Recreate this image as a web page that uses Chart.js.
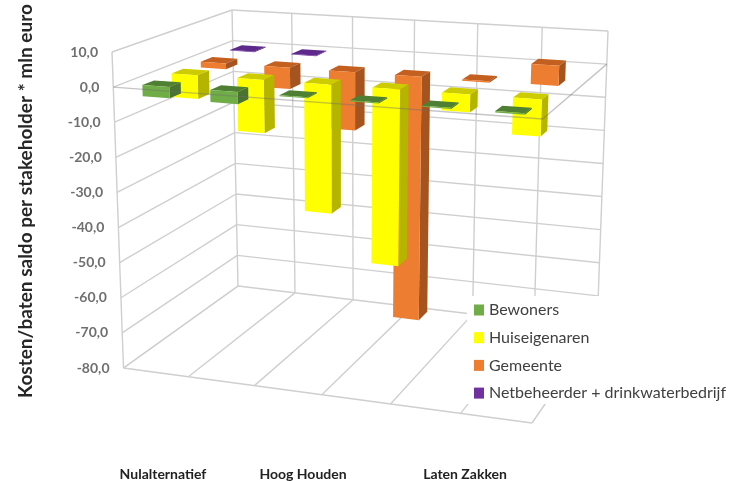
<!DOCTYPE html>
<html>
<head>
<meta charset="utf-8">
<title>Kosten/baten saldo per stakeholder</title>
<script src="https://cdn.jsdelivr.net/npm/chart.js"></script>
<style>
  html, body { margin: 0; background: #fff; }
  canvas { display: block; }
</style>
</head>
<body>
<canvas id="myChart" width="732" height="481"></canvas>
<script>
// mln euro per alternative, two columns for each one
var categories = ['Nulalternatief', '', 'Hoog Houden', '', 'Laten Zakken', ''];
var bewoners = [-3.2, -3.4, -0.3, -0.3, -0.3, -0.4];
var huiseigenaren = [-7, -15.5, -37, -50, -5, -10.2];
var gemeente = [-1.8, -6.4, -17.3, -71.3, -0.4, 5.8];
var netbeheerder = [-0.2, -0.2, 0, 0, 0, 0];

// where the plot box ends up on screen: f/b = front/back, l/r = left/right, t/b = top/bottom
var box = {
    flt: [112, 52], flb: [123.5, 368],
    frt: [544, 81], frb: [532, 423],
    blt: [232, 10], blb: [238, 286],
    brt: [608, 31], brb: [597, 329]
};
var categoryLabelX = [163, null, 303, null, 465, null];
var perspective = 1.06; // columns get wider towards the right

var faceColors = [
    { front: '#70ad47', top: '#4f7f32', side: '#4a7230' },
    { front: '#ffff00', top: '#cccc00', side: '#b5b500' },
    { front: '#ed7d31', top: '#c4601f', side: '#a5541f' },
    { front: '#7030a0', top: '#5d2a8c', side: '#4f2378' }
];

function mix(a, b, k) {
    return [a[0] + (b[0] - a[0]) * k, a[1] + (b[1] - a[1]) * k];
}

// u along the categories, d front to back, t top to bottom of the value axis
function project(u, d, t) {
    var w = u / (u + perspective * (1 - u));
    var front = mix(mix(box.flt, box.flb, t), mix(box.frt, box.frb, t), w);
    var back = mix(mix(box.blt, box.blb, t), mix(box.brt, box.brb, t), w);
    return mix(front, back, d);
}

function line(ctx, a, b) {
    ctx.beginPath();
    ctx.moveTo(a[0], a[1]);
    ctx.lineTo(b[0], b[1]);
    ctx.stroke();
}

function face(ctx, color, pts) {
    ctx.fillStyle = color;
    ctx.beginPath();
    pts.forEach(function (p, i) {
        if (i === 0) ctx.moveTo(p[0], p[1]);
        else ctx.lineTo(p[0], p[1]);
    });
    ctx.closePath();
    ctx.fill();
}

var box3d = {
    id: 'box3d',
    beforeDatasetsDraw: function (chart) {
        var ctx = chart.ctx;
        var area = chart.chartArea;
        var yScale = chart.scales.y;
        var tOf = function (px) { return (px - area.top) / area.height; };
        var uOf = function (px) { return (px - area.left) / area.width; };
        var rows = chart.data.datasets.length;
        var slots = chart.data.labels.length;

        ctx.save();
        // walls and floor
        ctx.strokeStyle = '#cfcfcf';
        ctx.lineWidth = 1.4;
        yScale.ticks.forEach(function (tick) {
            var t = tOf(yScale.getPixelForValue(tick.value));
            line(ctx, project(0, 0, t), project(0, 1, t));
            line(ctx, project(0, 1, t), project(1, 1, t));
        });
        line(ctx, project(0, 0, 0), project(0, 0, 1));
        for (var s = 0; s <= slots; s++) {
            line(ctx, project(s / slots, 1, 0), project(s / slots, 1, 1));
            line(ctx, project(s / slots, 1, 1), project(s / slots, 0, 1));
        }
        line(ctx, project(0, 0, 1), project(1, 0, 1));

        // back row first so the nearer columns cover it
        for (var row = rows - 1; row >= 0; row--) {
            var els = chart.getDatasetMeta(row).data;
            var colors = faceColors[row];
            var d0 = (row + 0.3) / rows;
            var d1 = (row + 0.7) / rows;
            els.forEach(function (el, i) {
                if (!chart.data.datasets[row].data[i]) return;
                var u0 = uOf(el.x - el.width / 2);
                var u1 = uOf(el.x + el.width / 2);
                var t0 = tOf(Math.min(el.y, el.base));
                var t1 = tOf(Math.max(el.y, el.base));
                face(ctx, colors.top, [project(u0, d0, t0), project(u1, d0, t0), project(u1, d1, t0), project(u0, d1, t0)]);
                face(ctx, colors.side, [project(u1, d0, t0), project(u1, d1, t0), project(u1, d1, t1), project(u1, d0, t1)]);
                face(ctx, colors.front, [project(u0, d0, t0), project(u1, d0, t0), project(u1, d0, t1), project(u0, d0, t1)]);
            });
        }

        // the zero plane edge runs in front of the columns
        var t0Line = tOf(yScale.getPixelForValue(0));
        ctx.strokeStyle = 'rgba(110,110,110,0.4)';
        line(ctx, project(0, 0, t0Line), project(1, 0, t0Line));
        line(ctx, project(1, 0, t0Line), project(1, 1, t0Line));

        // legend on its white panel
        ctx.fillStyle = '#fff';
        ctx.fillRect(467, 296, 265, 108);
        ctx.textBaseline = 'middle';
        ctx.textAlign = 'left';
        ctx.font = '16px Lato';
        chart.data.datasets.forEach(function (ds, i) {
            var y = 310 + i * 27.7;
            ctx.fillStyle = ds.backgroundColor;
            ctx.fillRect(474, y - 5.5, 10, 11);
            ctx.fillStyle = '#404040';
            ctx.fillText(ds.label, 489, y);
        });

        // value labels follow the slanted front edge
        ctx.font = 'bold 14px Lato';
        ctx.fillStyle = '#6f6f6f';
        ctx.textAlign = 'right';
        yScale.ticks.forEach(function (tick) {
            var p = project(0, 0, tOf(yScale.getPixelForValue(tick.value)));
            ctx.fillText(tick.label, p[0] - 14, p[1]);
        });

        ctx.font = 'bold 14px Lato';
        ctx.fillStyle = '#222';
        ctx.textAlign = 'center';
        chart.data.labels.forEach(function (label, i) {
            if (label) ctx.fillText(label, categoryLabelX[i], 474);
        });

        ctx.translate(26, 201);
        ctx.rotate(-Math.PI / 2);
        ctx.font = 'bold 19px Lato';
        ctx.fillStyle = '#262626';
        ctx.fillText('Kosten/baten saldo per stakeholder * mln euro', 0, 0);
        ctx.restore();
        return false; // columns are done, skip the flat ones
    }
};

var ctx = document.getElementById('myChart').getContext('2d');

var myChart = new Chart(ctx, {
    type: 'bar',
    data: {
        labels: categories,
        datasets: [
            { label: 'Bewoners', data: bewoners, backgroundColor: '#70ad47' },
            { label: 'Huiseigenaren', data: huiseigenaren, backgroundColor: '#ffff00' },
            { label: 'Gemeente', data: gemeente, backgroundColor: '#ed7d31' },
            { label: 'Netbeheerder + drinkwaterbedrijf', data: netbeheerder, backgroundColor: '#7030a0' }
        ]
    },
    options: {
        responsive: false,
        animation: false,
        grouped: false,
        barPercentage: 1,
        categoryPercentage: 0.4,
        layout: { padding: 0 },
        plugins: { legend: { display: false }, tooltip: { enabled: false } },
        scales: {
            x: { display: false },
            y: {
                display: false,
                min: -80,
                max: 10,
                ticks: {
                    stepSize: 10,
                    callback: function (v) { return v.toFixed(1).replace('.', ','); }
                }
            }
        }
    },
    plugins: [box3d]
});
</script>
</body>
</html>
